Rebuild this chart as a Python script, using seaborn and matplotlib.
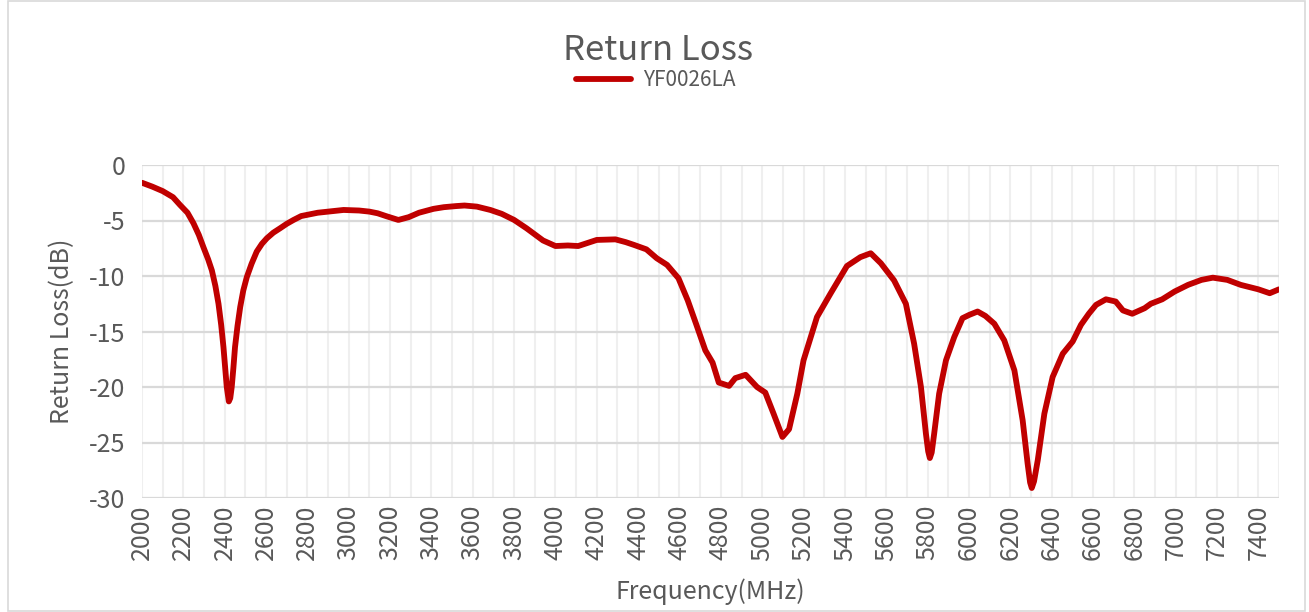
import matplotlib
matplotlib.use("Agg")
import matplotlib.pyplot as plt
import seaborn as sns
import pandas as pd
from matplotlib.patches import Rectangle

freq_mhz = [2000, 2050, 2100, 2150, 2184, 2220, 2249, 2275, 2297, 2320, 2338, 2355, 2370, 2383, 2394,
            2403, 2410, 2420, 2427, 2434, 2442, 2450, 2462, 2475, 2490, 2507, 2530, 2555, 2580,
            2604, 2635, 2668, 2700, 2733, 2770, 2850, 2900, 2975, 3050, 3100, 3140, 3180, 3240,
            3290, 3340, 3410, 3460, 3520, 3560, 3620, 3685, 3740, 3800, 3860, 3940, 4000, 4060,
            4110, 4160, 4200, 4290, 4340, 4380, 4440, 4490, 4540, 4595, 4640, 4680, 4725, 4760,
            4790, 4840, 4870, 4920, 4975, 5015, 5055, 5098, 5130, 5170, 5200, 5265, 5330, 5410,
            5475, 5525, 5574, 5638, 5695, 5735, 5768, 5792, 5803, 5811, 5820, 5832, 5856, 5889,
            5929, 5969, 6002, 6042, 6080, 6123, 6171, 6220, 6260, 6284, 6296, 6304, 6315, 6333,
            6365, 6405, 6454, 6502, 6542, 6580, 6615, 6663, 6710, 6745, 6790, 6850, 6880, 6935,
            6995, 7060, 7125, 7180, 7250, 7315, 7400, 7455, 7500]
return_loss_db = [-1.6, -1.95, -2.35, -2.9, -3.6, -4.3, -5.25, -6.3, -7.4, -8.5, -9.5, -10.9, -12.5, -14.4, -16.4,
                  -18.4, -20.0, -21.3, -21.0, -20.0, -18.3, -16.4, -14.5, -12.8, -11.3, -10.1, -8.9, -7.8, -7.1,
                  -6.6, -6.1, -5.7, -5.3, -4.95, -4.6, -4.3, -4.2, -4.05, -4.1, -4.2, -4.35, -4.6, -4.95,
                  -4.7, -4.3, -3.95, -3.8, -3.7, -3.65, -3.75, -4.05, -4.4, -4.95, -5.7, -6.8, -7.3, -7.25,
                  -7.3, -7.0, -6.75, -6.7, -6.95, -7.2, -7.6, -8.4, -9.0, -10.2, -12.2, -14.3, -16.7, -17.8,
                  -19.6, -19.9, -19.2, -18.9, -20.0, -20.5, -22.4, -24.5, -23.8, -20.6, -17.6, -13.7, -11.6, -9.1,
                  -8.3, -7.95, -8.85, -10.4, -12.5, -16.1, -20.0, -24.2, -25.8, -26.4, -25.9, -24.2, -20.6, -17.6,
                  -15.5, -13.8, -13.5, -13.2, -13.6, -14.3, -15.8, -18.5, -23.0, -26.9, -28.6, -29.1, -28.5, -26.6,
                  -22.4, -19.1, -17.0, -15.9, -14.4, -13.4, -12.6, -12.1, -12.3, -13.1, -13.4, -12.9, -12.5, -12.1,
                  -11.4, -10.8, -10.35, -10.15, -10.35, -10.8, -11.2, -11.55, -11.2]
series_name = "YF0026LA"
x_ticks = list(range(2000, 7500, 200))
y_ticks = [0, -5, -10, -15, -20, -25, -30]

sns.set_style("white")
plt.rcParams['font.family'] = ['Noto Sans CJK SC', 'DejaVu Sans']

df = pd.DataFrame({"Frequency(MHz)": freq_mhz, "Return Loss(dB)": return_loss_db, "series": series_name})

W, H = 1309, 612
fig = plt.figure(figsize=(W / 100, H / 100), dpi=100)
ax = fig.add_axes([142 / W, 1 - 498 / H, (1279 - 142) / W, (498 - 165) / H])

text_color = "#595959"
sns.lineplot(data=df, x="Frequency(MHz)", y="Return Loss(dB)", hue="series",
             palette=["#C00000"], linewidth=4.2, ax=ax, sort=False,
             solid_joinstyle="round", solid_capstyle="round", zorder=5)

ax.set_xlim(2000, 7500)
ax.set_ylim(-30, 0)
ax.set_xticks(x_ticks)
ax.set_xticks(list(range(2000, 7501, 100)), minor=True)
ax.set_yticks(y_ticks)
ax.set_xticklabels([str(t) for t in x_ticks], rotation=90, fontsize=18, color=text_color)
ax.set_yticklabels([str(t) for t in y_ticks], fontsize=18, color=text_color)
ax.tick_params(axis="both", which="both", length=0)
ax.tick_params(axis="x", pad=5)
ax.tick_params(axis="y", pad=12)

ax.grid(False)
ax.xaxis.grid(True, which="both", color="#efefef", linewidth=1.5, zorder=0)
ax.yaxis.grid(True, which="major", color="#d9d9d9", linewidth=1.6, zorder=1)
ax.set_axisbelow(True)
for s in ax.spines.values():
    s.set_visible(False)

ax.set_xlabel("Frequency(MHz)", fontsize=18, color=text_color, labelpad=13)
ax.set_ylabel("Return Loss(dB)", fontsize=18, color=text_color, labelpad=10)

ax.get_legend().remove()
fig.text(658 / W, 1 - 50 / H, "Return Loss", fontsize=25, color=text_color, ha="center", va="center")
handles, labels = ax.get_legend_handles_labels()
fig.legend(handles, labels, loc="center", bbox_to_anchor=(656 / W, 1 - 80 / H), frameon=False,
           labelcolor=text_color, handlelength=2.6, handletextpad=0.6,
           borderpad=0, borderaxespad=0, prop={"size": 15})

fig.patches.append(Rectangle((8 / W, 0.0015), (1305 - 8) / W, 0.997, transform=fig.transFigure,
                             fill=False, edgecolor="#d9d9d9", linewidth=1.2))

fig.savefig("out.png", dpi=100, facecolor="white")
